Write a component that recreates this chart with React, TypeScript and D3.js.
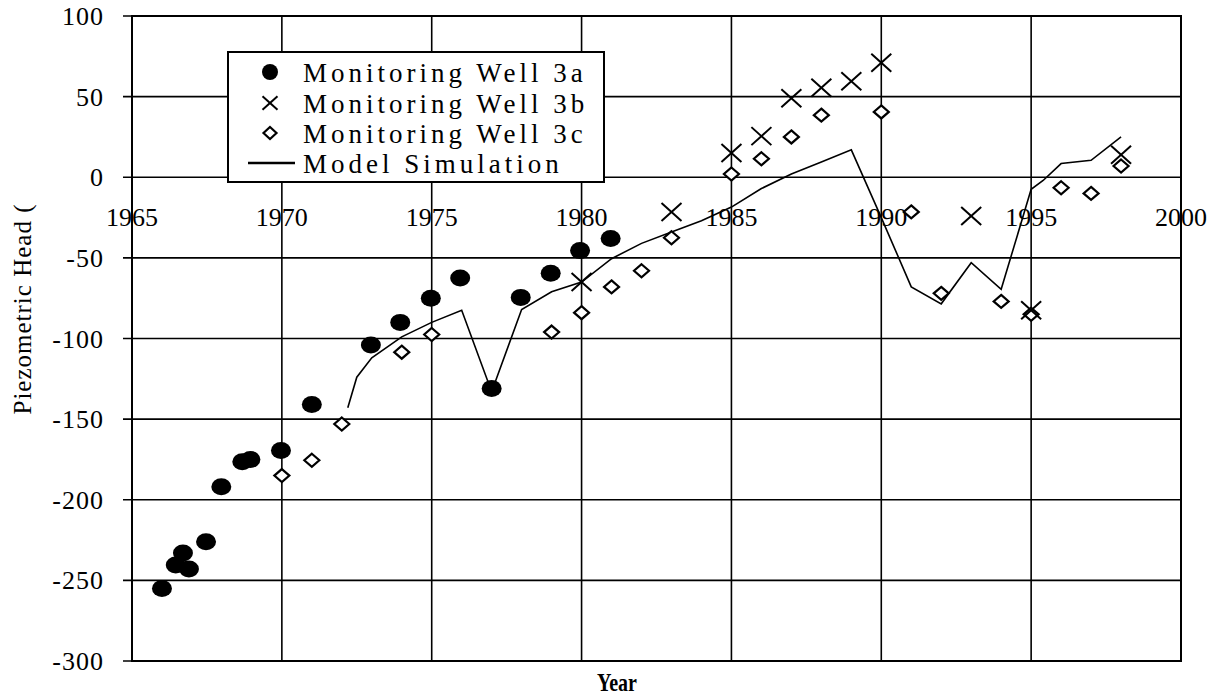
import React from "react";
import * as d3 from "d3";

const well3aYears = [1966.0, 1966.46, 1966.7, 1966.9, 1967.47, 1967.98, 1968.68, 1968.95, 1969.97, 1971.0, 1972.97, 1973.95, 1974.97, 1975.95, 1977.0, 1977.97, 1978.97, 1979.95, 1980.97];
const well3aValues = [-255, -240.5, -233, -243, -226, -192, -176.5, -175, -169.5, -141, -104, -90, -75, -62.5, -131, -74.5, -59.5, -45.5, -38];

const well3bYears = [1980, 1983, 1985, 1986, 1987, 1988, 1989, 1990, 1993, 1995, 1998];
const well3bValues = [-65, -21.5, 15, 25.5, 49, 55.5, 59.5, 71, -24, -82.5, 14];

const well3cYears = [1970, 1971, 1972, 1974, 1975, 1979, 1980, 1981, 1982, 1983, 1985, 1986, 1987, 1988, 1990, 1991, 1992, 1994, 1995, 1996, 1997, 1998];
const well3cValues = [-185, -175.5, -153, -108.5, -97.5, -96, -84, -68, -58, -37.5, 2, 11.5, 25, 38.5, 40.5, -21.5, -72, -77, -85, -6.5, -10, 7];

const modelYears = [1972.2, 1972.5, 1973, 1974, 1975, 1976, 1977, 1978, 1979, 1980, 1981, 1982, 1983, 1984, 1985, 1986, 1987, 1988, 1989, 1990, 1991, 1992, 1993, 1994, 1995, 1995.4, 1996, 1997, 1998];
const modelValues = [-143, -124, -112, -99, -90, -82.5, -133, -82, -71, -65, -50.5, -41, -34, -27, -18.5, -7, 2, 9.5, 17, -25, -68, -78.5, -53, -69.5, -7.5, -2, 8.5, 10.5, 25];

const xTicks = [1965, 1970, 1975, 1980, 1985, 1990, 1995, 2000];
const yTicks = [100, 50, 0, -50, -100, -150, -200, -250, -300];

const legendLabels = ["Monitoring Well 3a", "Monitoring Well 3b", "Monitoring Well 3c", "Model Simulation"];

const FONT = "'Liberation Serif', 'Times New Roman', serif";

export default function App() {
  const left = 132, right = 1181, top = 16, bottom = 661;
  const x = d3.scaleLinear().domain([1965, 2000]).range([left, right]);
  const y = d3.scaleLinear().domain([-300, 100]).range([bottom, top]);

  const line = d3
    .line<number>()
    .x((_, i) => x(modelYears[i]))
    .y((v) => y(v));

  const cross = (cx: number, cy: number, h: number, k: string) => (
    <g key={k} stroke="#000" strokeWidth={2}>
      <line x1={cx - h} y1={cy - h * 0.9} x2={cx + h} y2={cy + h * 0.9} />
      <line x1={cx - h} y1={cy + h * 0.9} x2={cx + h} y2={cy - h * 0.9} />
    </g>
  );
  const diamond = (cx: number, cy: number, w: number, h: number, k: string) => (
    <path
      key={k}
      d={`M${cx},${cy - h}L${cx + w},${cy}L${cx},${cy + h}L${cx - w},${cy}Z`}
      fill="#fff"
      stroke="#000"
      strokeWidth={2.2}
    />
  );

  const legX = 270;
  const legRowsY = [72, 103, 133, 163];

  return (
    <svg
      width={1216}
      height={698}
      style={{ position: "absolute", left: 0, top: 0, background: "#fff" }}
      fontFamily={FONT}
    >
      <rect x={0} y={0} width={1216} height={698} fill="#fff" />
      {/* grid */}
      {yTicks.map((t) => (
        <line key={"gy" + t} x1={left - 9} x2={right} y1={y(t)} y2={y(t)} stroke="#000" strokeWidth={1.6} />
      ))}
      {xTicks.map((t) => (
        <line key={"gx" + t} x1={x(t)} x2={x(t)} y1={top} y2={bottom} stroke="#000" strokeWidth={1.6} />
      ))}
      <rect x={left} y={top} width={right - left} height={bottom - top} fill="none" stroke="#000" strokeWidth={2} />

      {/* y tick labels */}
      {yTicks.map((t) => (
        <text key={"ty" + t} x={104} y={y(t)} dy="0.35em" textAnchor="end" fontSize={26} letterSpacing={1}>
          {t}
        </text>
      ))}
      {/* x tick labels */}
      {xTicks.map((t) => (
        <text key={"tx" + t} x={x(t)} y={226} textAnchor="middle" fontSize={26}>
          {t}
        </text>
      ))}

      {/* axis titles */}
      <text
        transform={`translate(31,309) rotate(-90)`}
        textAnchor="middle"
        fontSize={25}
        letterSpacing={1}
      >
        Piezometric Head (
      </text>
      <text x={617} y={691} textAnchor="middle" fontSize={26} fontWeight="bold" textLength={40} lengthAdjust="spacingAndGlyphs">
        Year
      </text>

      {/* model line */}
      <path d={line(modelValues) || ""} fill="none" stroke="#000" strokeWidth={1.6} />

      {/* well 3c diamonds */}
      {well3cValues.map((v, i) => diamond(x(well3cYears[i]), y(v), 7.5, 6.5, "c" + i))}
      {/* well 3a circles */}
      {well3aValues.map((v, i) => (
        <ellipse key={"a" + i} cx={x(well3aYears[i])} cy={y(v)} rx={10} ry={8.5} fill="#000" />
      ))}
      {/* well 3b crosses */}
      {well3bValues.map((v, i) => cross(x(well3bYears[i]), y(v), 10, "b" + i))}

      {/* legend */}
      <rect x={228} y={52} width={376} height={130} fill="#fff" stroke="#000" strokeWidth={2} />
      <circle cx={legX} cy={legRowsY[0]} r={8} fill="#000" />
      {cross(legX, legRowsY[1], 7.5, "lc")}
      {diamond(legX, legRowsY[2], 6.5, 6, "ld")}
      <line x1={248} x2={295} y1={legRowsY[3]} y2={legRowsY[3]} stroke="#000" strokeWidth={2.5} />
      {legendLabels.map((l, i) => (
        <text key={"l" + i} x={303} y={legRowsY[i] + 10} fontSize={27} letterSpacing={4}>
          {l}
        </text>
      ))}
    </svg>
  );
}
